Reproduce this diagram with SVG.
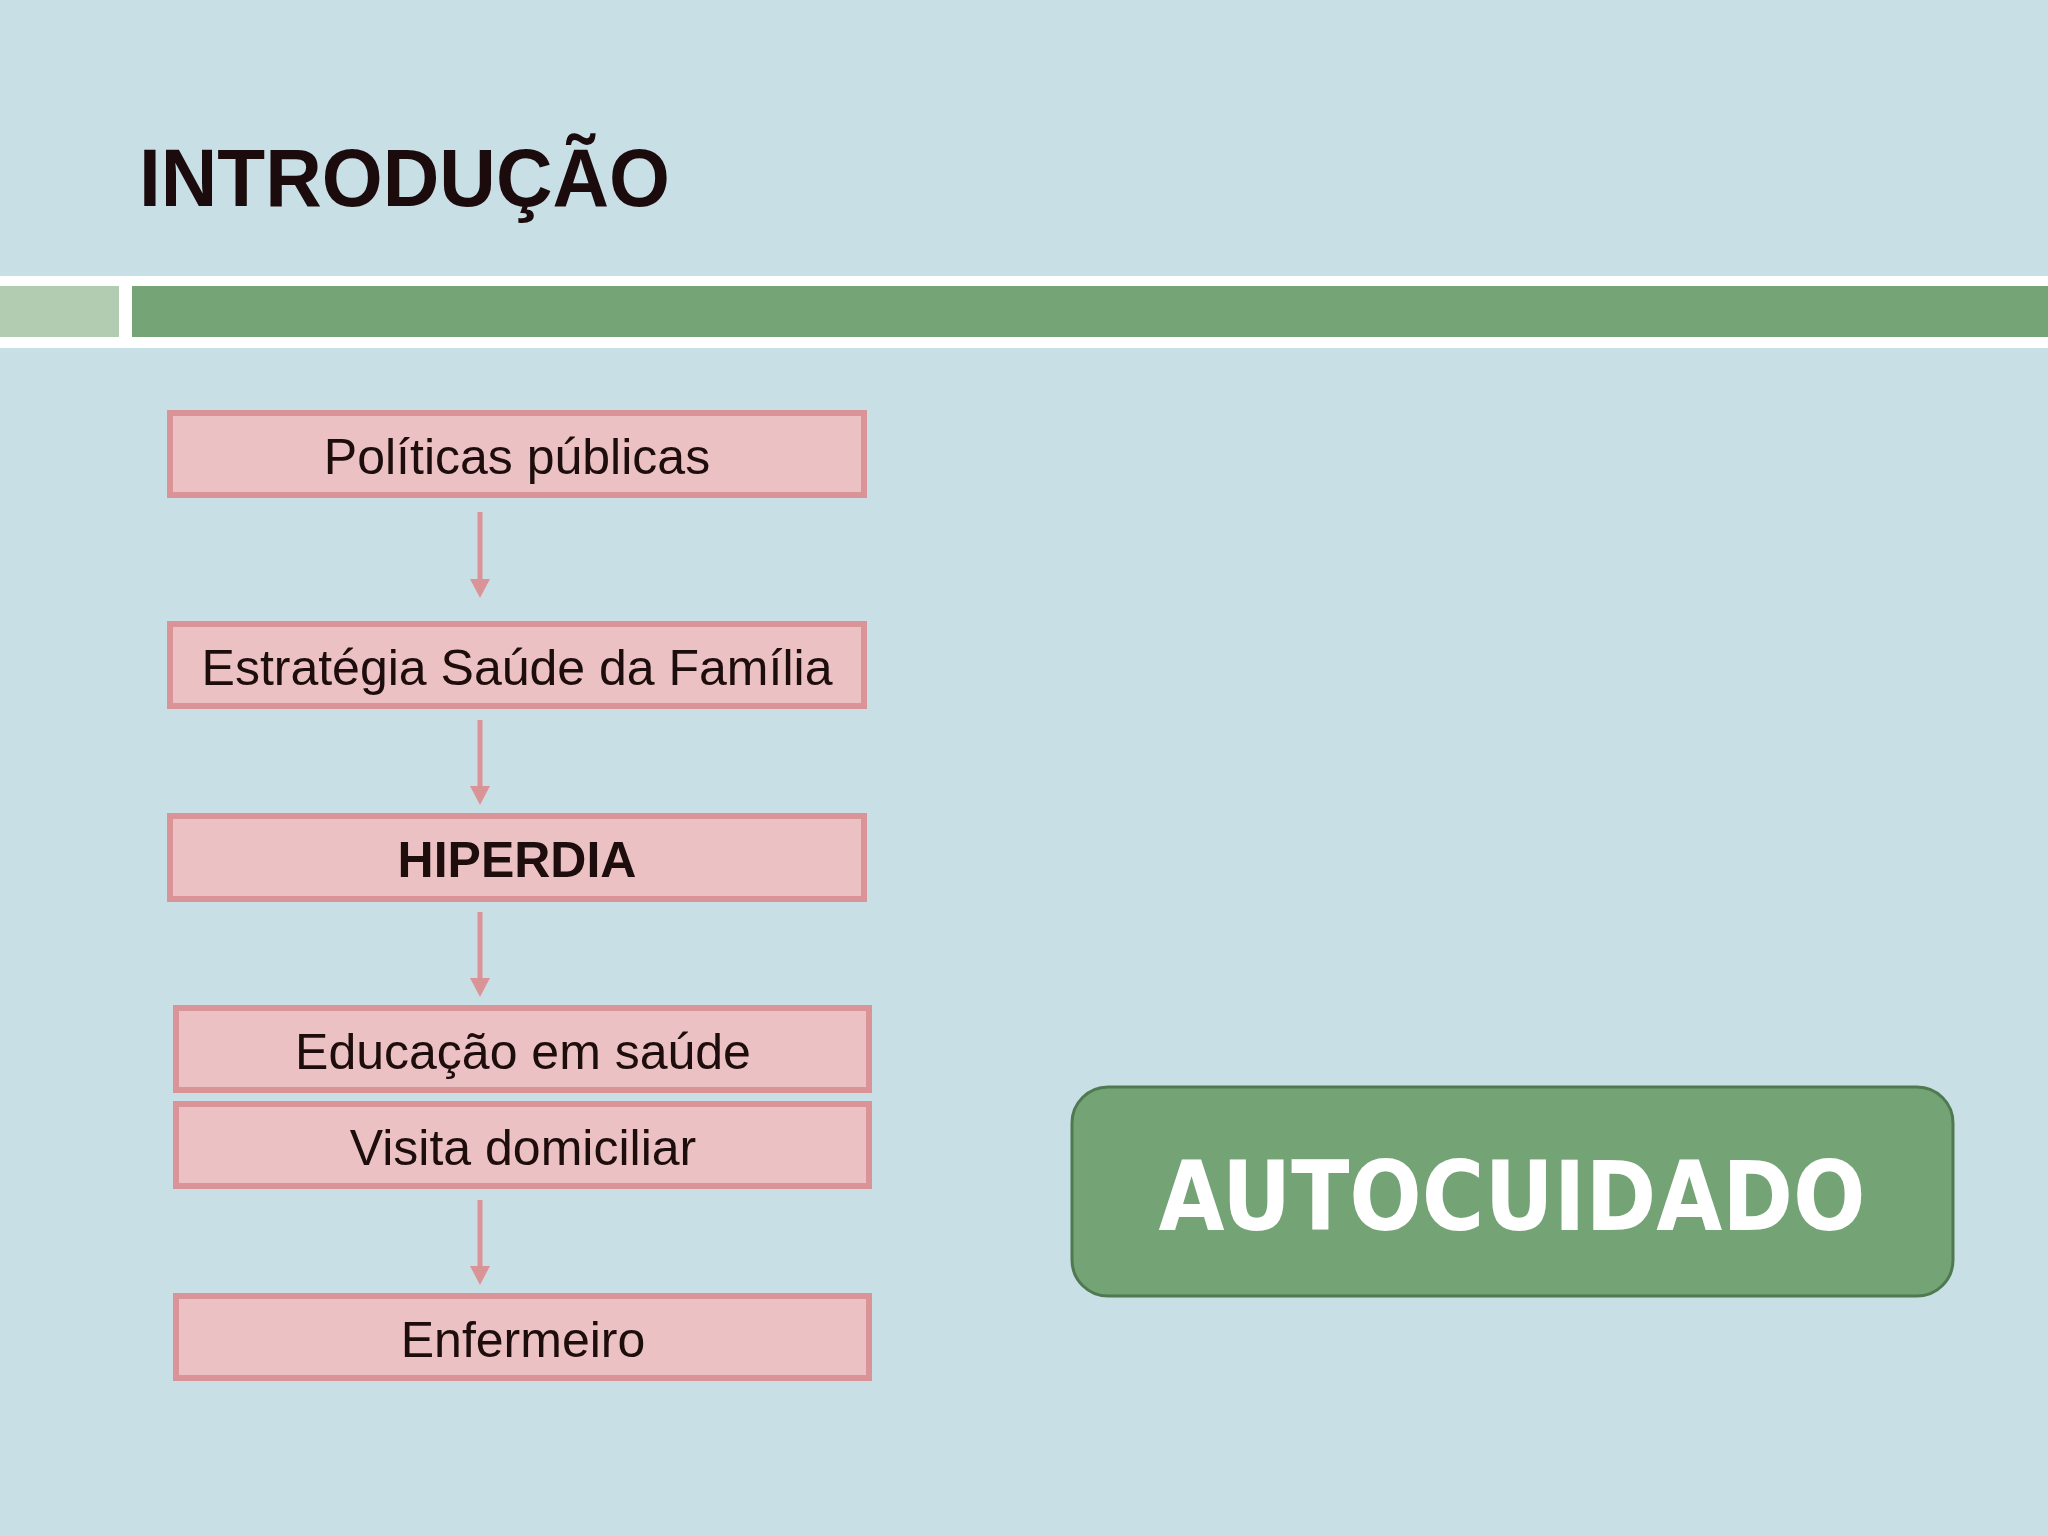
<svg xmlns="http://www.w3.org/2000/svg" width="2048" height="1536" viewBox="0 0 2048 1536">
<defs>
<style>
.bg{fill:#c9dfe6}
.box{fill:#ecc1c3;stroke:#da9498;stroke-width:6}
.lbl{font-family:"Liberation Sans",Arial,sans-serif;font-size:50px;fill:#1e0d0d;text-anchor:middle}
.bold{font-weight:bold}
.conn{stroke:#da9498;stroke-width:5;fill:none}
</style>
<marker id="ah" markerUnits="userSpaceOnUse" markerWidth="20" markerHeight="20" viewBox="0 0 20 20" refX="0" refY="10" orient="auto">
<path d="M0,0 L19,10 L0,20 Z" fill="#da9498"/>
</marker>
</defs>
<rect class="bg" x="0" y="0" width="2048" height="1536"/>
<g id="title">
<text x="139" y="206" font-family="'Liberation Sans',Arial,sans-serif" font-weight="bold" font-size="81" fill="#1b0b0c" textLength="531" lengthAdjust="spacingAndGlyphs">INTRODUÇÃO</text>
</g>
<g id="band">
<rect x="0" y="276" width="2048" height="72" fill="#ffffff"/>
<rect x="0" y="286" width="119" height="51" fill="#b1ccb1"/>
<rect x="132" y="286" width="1916" height="51" fill="#75a476"/>
</g>
<g id="connectors">
<line class="conn" x1="480" y1="512" x2="480" y2="579" marker-end="url(#ah)"/>
<line class="conn" x1="480" y1="720" x2="480" y2="786" marker-end="url(#ah)"/>
<line class="conn" x1="480" y1="912" x2="480" y2="978" marker-end="url(#ah)"/>
<line class="conn" x1="480" y1="1200" x2="480" y2="1266" marker-end="url(#ah)"/>
</g>
<g id="n1"><rect class="box" x="170" y="413" width="694" height="82"/><text class="lbl" x="517" y="474">Políticas públicas</text></g>
<g id="n2"><rect class="box" x="170" y="624" width="694" height="82"/><text class="lbl" x="517" y="685">Estratégia Saúde da Família</text></g>
<g id="n3"><rect class="box" x="170" y="816" width="694" height="83"/><text class="lbl bold" x="517" y="877">HIPERDIA</text></g>
<g id="n4"><rect class="box" x="176" y="1008" width="693" height="82"/><text class="lbl" x="523" y="1069">Educação em saúde</text></g>
<g id="n5"><rect class="box" x="176" y="1104" width="693" height="82"/><text class="lbl" x="523" y="1165">Visita domiciliar</text></g>
<g id="n6"><rect class="box" x="176" y="1296" width="693" height="82"/><text class="lbl" x="523" y="1357">Enfermeiro</text></g>
<g id="autocuidado">
<rect x="1072" y="1087" width="881" height="209" rx="36" ry="36" fill="#74a376" stroke="#4f7a51" stroke-width="3"/>
<text x="1512" y="1230" font-family="'Comic Sans MS','DejaVu Sans',sans-serif" font-weight="bold" font-size="96" fill="#ffffff" text-anchor="middle" textLength="707" lengthAdjust="spacingAndGlyphs">AUTOCUIDADO</text>
</g>
</svg>
